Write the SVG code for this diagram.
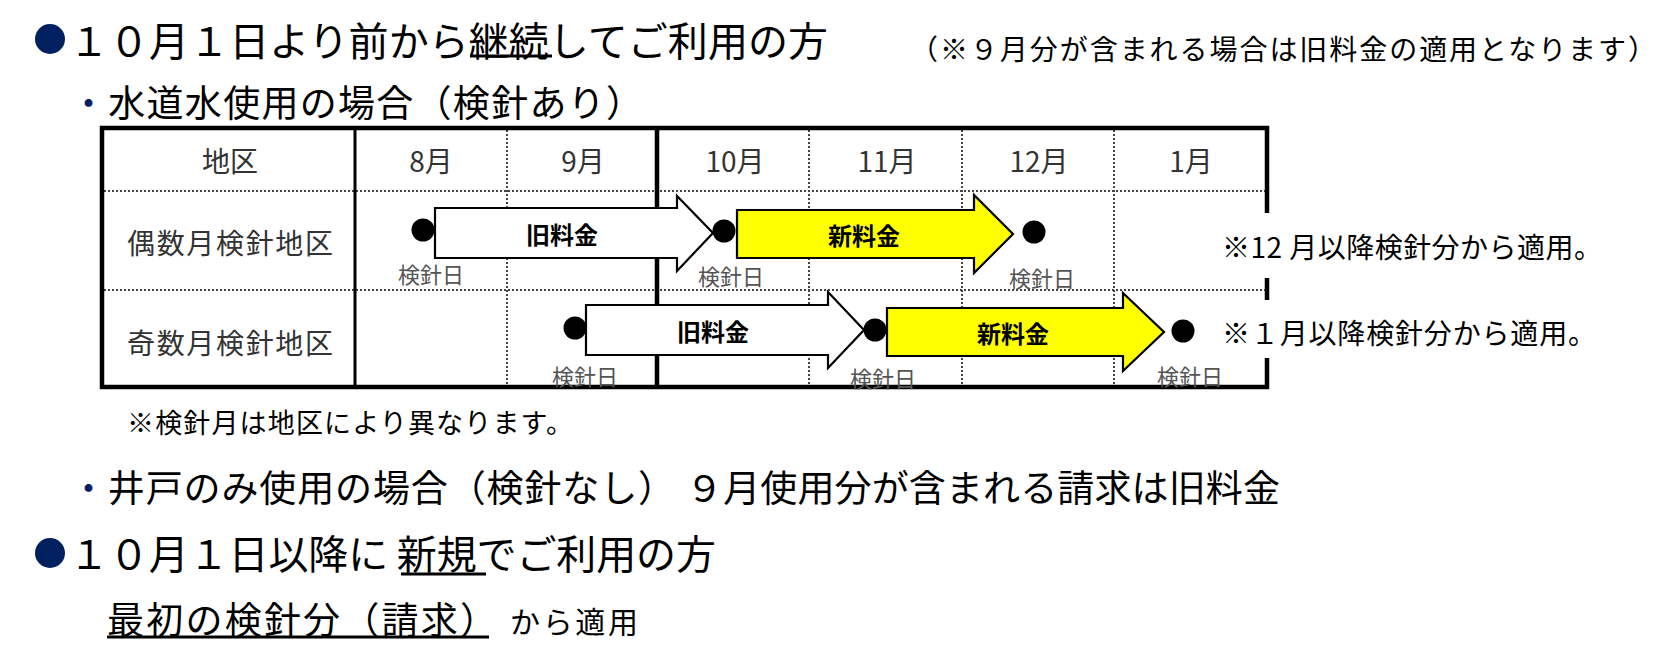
<svg xmlns="http://www.w3.org/2000/svg" width="1676" height="656" viewBox="0 0 1676 656">
<style>
text{font-family:"Noto Sans CJK JP","Noto Sans CJK SC",sans-serif;fill:#000;dominant-baseline:central}
.h1{font-size:40px}
.h2{font-size:37px}
.nav{fill:#002060}
.cell{font-size:28px;fill:#333;text-anchor:middle}
.lbl{font-size:22px;fill:#555;text-anchor:middle}
.arr{font-size:24px;font-weight:bold;text-anchor:middle}
.note{font-size:28px}
.dot{stroke:#444;stroke-width:2;stroke-dasharray:2 2;fill:none}
.thick{stroke:#000;stroke-width:4.5;fill:none}
.ul{stroke:#000;stroke-width:3}
.old{fill:#fff;stroke:#000;stroke-width:2.2;stroke-linejoin:miter}
.new{fill:#ffff00;stroke:#000;stroke-width:2.2;stroke-linejoin:miter}
</style>

<g id="heading1">
<circle cx="50" cy="39" r="15" fill="#002060"/>
<text class="h1" x="69" y="39" textLength="759">１０月１日より前から継続してご利用の方</text>
<line class="ul" x1="470" y1="56" x2="552" y2="56"/>
</g>
<text id="note-top" x="910" y="48" font-size="28" textLength="746">（※９月分が含まれる場合は旧料金の適用となります）</text>

<text id="sub1" class="h2" x="70" y="101" textLength="573"><tspan class="nav">・</tspan>水道水使用の場合（検針あり）</text>

<g id="table">
<line class="dot" x1="104" y1="191" x2="1267" y2="191"/>
<line class="dot" x1="104" y1="290" x2="1267" y2="290"/>
<line class="dot" x1="507" y1="130" x2="507" y2="387"/>
<line class="dot" x1="809" y1="130" x2="809" y2="387"/>
<line class="dot" x1="962" y1="130" x2="962" y2="387"/>
<line class="dot" x1="1114" y1="130" x2="1114" y2="387"/>
<line x1="355" y1="130" x2="355" y2="387" stroke="#000" stroke-width="3"/>
<line class="thick" x1="657" y1="130" x2="657" y2="387"/>
<path class="thick" d="M1267 213 V128 H102 V387 H1267 V358 M1267 278 V300"/>
<text class="cell" x="230" y="160">地区</text>
<text class="cell" x="431" y="160">8月</text>
<text class="cell" x="583" y="160">9月</text>
<text class="cell" x="735" y="160">10月</text>
<text class="cell" x="887" y="160">11月</text>
<text class="cell" x="1039" y="160">12月</text>
<text class="cell" x="1191" y="160">1月</text>
<text class="cell" x="230" y="242" font-size="29" textLength="206">偶数月検針地区</text>
<text class="cell" x="230" y="342" font-size="29" textLength="206">奇数月検針地区</text>
</g>

<g id="row-even">
<polygon class="old" points="435,208 677,208 677,196 713,233 677,271 677,258 435,258"/>
<text class="arr" x="562" y="233">旧料金</text>
<polygon class="new" points="737,210 974,210 974,195 1013,234 974,273 974,258 737,258"/>
<text class="arr" x="864" y="234">新料金</text>
<circle cx="423" cy="230" r="11.5"/>
<circle cx="724" cy="231" r="11.5"/>
<circle cx="1034" cy="232" r="11.5"/>
<text class="lbl" x="431" y="273">検針日</text>
<text class="lbl" x="731" y="275">検針日</text>
<text class="lbl" x="1042" y="277">検針日</text>
</g>

<g id="row-odd">
<polygon class="old" points="586,305 828,305 828,292 864,330 828,368 828,355 586,355"/>
<text class="arr" x="713" y="330">旧料金</text>
<polygon class="new" points="887,308 1123,308 1123,293 1164,332 1123,371 1123,356 887,356"/>
<text class="arr" x="1013" y="332">新料金</text>
<circle cx="575" cy="328" r="11.5"/>
<circle cx="875" cy="330" r="11.5"/>
<circle cx="1183" cy="331" r="11.5"/>
<text class="lbl" x="585" y="375">検針日</text>
<text class="lbl" x="883" y="377">検針日</text>
<text class="lbl" x="1190" y="375">検針日</text>
</g>

<text id="note-12" class="note" x="1222" y="246" textLength="380">※12 月以降検針分から適用。</text>
<text id="note-1" class="note" x="1222" y="332" textLength="374">※１月以降検針分から適用。</text>
<text id="note-month" x="127" y="421" font-size="27" textLength="446">※検針月は地区により異なります。</text>

<text id="sub2" class="h2" x="70" y="486" textLength="605"><tspan class="nav">・</tspan>井戸のみ使用の場合（検針なし）</text>
<text id="sub2-note" class="h2" x="686" y="486" textLength="594">９月使用分が含まれる請求は旧料金</text>

<g id="heading2">
<circle cx="50" cy="553" r="15" fill="#002060"/>
<text class="h1" x="69" y="552" textLength="647">１０月１日以降に 新規でご利用の方</text>
<line class="ul" x1="401" y1="574" x2="486" y2="574"/>
</g>
<g id="first">
<text x="107" y="618" font-size="37" textLength="390">最初の検針分（請求）</text>
<line class="ul" x1="107" y1="637" x2="489" y2="637"/>
<text x="510" y="620" font-size="30" textLength="128">から適用</text>
</g>
</svg>
